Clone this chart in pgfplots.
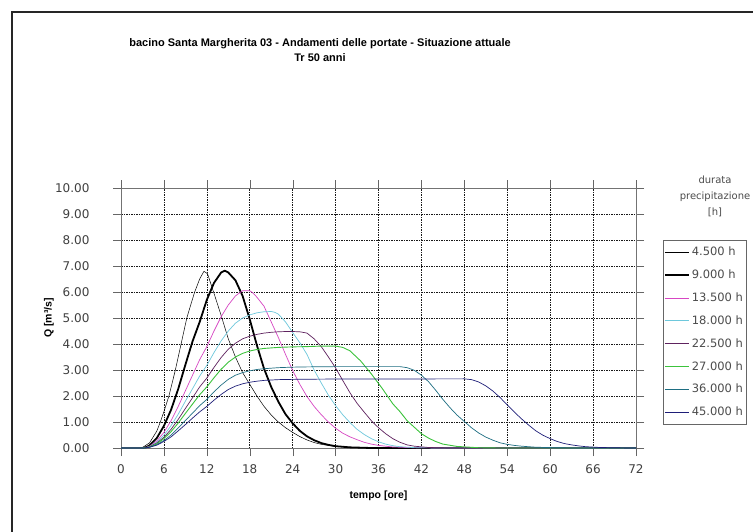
\documentclass[border=0pt]{standalone}
\usepackage{pgfplots}
\pgfplotsset{compat=1.18}
\usepackage{fontspec}
\setmainfont{DejaVu Sans}
\newfontfamily\lib{Liberation Sans}
\definecolor{cmag}{RGB}{215,70,195}
\definecolor{ccya}{RGB}{110,200,220}
\definecolor{cpur}{RGB}{95,35,95}
\definecolor{cgre}{RGB}{60,195,60}
\definecolor{ctea}{RGB}{30,110,130}
\definecolor{cnav}{RGB}{30,30,120}
\begin{document}
\begin{tikzpicture}[x=1pt,y=1pt]
\useasboundingbox (0,0) rectangle (753,-531);
\clip (0,0) rectangle (753,-531);
\fill[white] (0,0) rectangle (753,-531);
\draw[line width=1.2pt, black!85] (12,-12) rectangle (800,-600);
\node[align=center, font=\lib\bfseries\fontsize{11}{15}\selectfont] at (320,-50) {bacino Santa Margherita 03 - Andamenti delle portate - Situazione attuale\\Tr 50 anni};
\node[align=center, font=\fontsize{10}{16}\selectfont, text=black!70] at (715,-196) {durata\\precipitazione\\{[h]}};
\begin{axis}[at={(121pt,-448pt)}, anchor=south west, scale only axis,
  width=515pt, height=260pt,
  xmin=0, xmax=72, ymin=0, ymax=10,
  xtick={0,6,...,72}, ytick={0,1,...,10},
  grid=major,
  major grid style={black!90, dash pattern=on 1.5pt off 1pt, line width=0.6pt},
  axis line style={black!55},
  tick style={black!60},
  tick align=outside, major tick length=8pt,
  /pgf/number format/assume math mode=true,
  yticklabel style={/pgf/number format/fixed, /pgf/number format/fixed zerofill, /pgf/number format/precision=2, xshift=-20pt},
  xticklabel style={yshift=-5pt},
  ticklabel style={font=\fontsize{12}{14}\selectfont, text=black!75},
  xlabel={tempo [ore]},
  ylabel={Q [m³/s]},
  label style={font=\lib\bfseries\fontsize{10.5}{12}\selectfont},
  xlabel style={at={(axis description cs:0.5,-0.182)}, anchor=center},
  ylabel style={at={(axis description cs:-0.14,0.5)}, anchor=center},
  legend style={at={(axis description cs:1.052,0.80)}, anchor=north west,
    draw=black!60, fill=white, font=\fontsize{11.5}{13}\selectfont, text=black!70,
    row sep=8.6pt, inner xsep=1pt, inner ysep=5pt},
  legend cell align=left,
  legend image code/.code={\draw[#1] (0pt,0pt) -- (24pt,0pt);},
  every axis plot/.append style={line join=round},
]
\addplot[black, line width=0.5pt] coordinates {
(0,0)(2.5,0)(3,0.02)(4,0.2)(5,0.65)(5.5,1.0)(6,1.4)(6.7,2.0)(7.6,3.0)(8.4,4.0)(9.2,5.0)(9.8,5.55)(10.3,6.0)(11,6.5)(11.6,6.8)(12.1,6.7)(13,5.95)(14,5.1)(15,4.2)(16,3.5)(17,2.9)(18,2.45)(19,2.0)(20,1.6)(21,1.27)(22,1.0)(23,0.78)(24,0.6)(25,0.44)(26,0.31)(27,0.21)(28,0.14)(30,0.06)(33,0.015)(36,0)(72,0)};
\addlegendentry{4.500 h}
\addplot[black, line width=1.8pt] coordinates {
(0,0)(3,0)(3.5,0.03)(4,0.1)(5,0.38)(6,0.85)(7,1.47)(8,2.27)(9,3.2)(10,4.1)(11,4.85)(12,5.7)(13,6.35)(14,6.75)(14.5,6.82)(15,6.75)(16,6.45)(17,5.85)(18,4.95)(19,3.95)(20,3.05)(21,2.35)(22,1.78)(23,1.3)(24,0.95)(25,0.66)(26,0.45)(27,0.3)(28,0.19)(29,0.12)(30,0.07)(32,0.025)(35,0)(72,0)};
\addlegendentry{9.000 h}
\addplot[cmag, line width=0.7pt] coordinates {
(0,0)(3,0)(3.5,0.02)(4,0.07)(5,0.27)(6,0.6)(7,1.05)(8,1.6)(9,2.2)(10,2.8)(11,3.4)(12,3.9)(13,4.5)(14,5.05)(15,5.5)(16,5.85)(17,6.05)(18,6.05)(18.5,5.95)(19,5.8)(20,5.45)(21,4.85)(22,4.25)(23,3.6)(24,2.98)(25,2.45)(26,1.98)(27,1.6)(28,1.28)(29,1.0)(30,0.76)(31,0.57)(32,0.43)(33,0.32)(34,0.22)(35,0.15)(36,0.1)(38,0.04)(41,0.01)(45,0)(72,0)};
\addlegendentry{13.500 h}
\addplot[ccya, line width=0.7pt] coordinates {
(0,0)(3,0)(3.5,0.016)(4,0.057)(5,0.22)(6,0.49)(7,0.86)(8,1.3)(9,1.8)(10,2.28)(11,2.77)(12,3.18)(13,3.67)(14,4.12)(15,4.5)(16,4.8)(17,5.0)(18,5.12)(19,5.2)(20,5.24)(21,5.25)(21.5,5.22)(22,5.15)(23,4.85)(24,4.44)(25,4.05)(26,3.6)(27,3.0)(28,2.5)(29,2.03)(30,1.63)(31,1.28)(32,0.98)(33,0.72)(34,0.52)(35,0.36)(36,0.24)(37,0.15)(38,0.09)(39,0.05)(41,0.015)(44,0)(72,0)};
\addlegendentry{18.000 h}
\addplot[cpur, line width=0.7pt] coordinates {
(0,0)(3,0)(3.5,0.014)(4,0.05)(5,0.19)(6,0.41)(7,0.72)(8,1.1)(9,1.52)(10,1.93)(11,2.35)(12,2.69)(13,3.1)(14,3.48)(15,3.8)(16,4.03)(17,4.2)(18,4.3)(19,4.37)(20,4.42)(21,4.45)(22,4.47)(23,4.48)(24,4.48)(25,4.47)(26,4.42)(27,4.2)(28,3.9)(29,3.5)(30,3.08)(31,2.6)(32,2.13)(33,1.72)(34,1.38)(35,1.05)(36,0.78)(37,0.55)(38,0.36)(39,0.22)(40,0.12)(41,0.07)(43,0.02)(46,0)(72,0)};
\addlegendentry{22.500 h}
\addplot[cgre, line width=0.9pt] coordinates {
(0,0)(3,0)(3.5,0.012)(4,0.042)(5,0.16)(6,0.36)(7,0.63)(8,0.96)(9,1.33)(10,1.69)(11,2.05)(12,2.35)(13,2.7)(14,3.03)(15,3.3)(16,3.5)(17,3.64)(18,3.73)(19,3.79)(20,3.83)(22,3.87)(24,3.89)(26,3.9)(28,3.92)(30,3.92)(31,3.87)(32,3.74)(33.5,3.35)(35,2.85)(36.5,2.3)(38,1.7)(39,1.4)(40,1.05)(41,0.8)(42,0.55)(43,0.38)(44,0.25)(45,0.15)(47,0.06)(50,0.01)(53,0)(72,0)};
\addlegendentry{27.000 h}
\addplot[ctea, line width=0.7pt] coordinates {
(0,0)(3,0)(3.5,0.01)(4,0.034)(5,0.13)(6,0.29)(7,0.5)(8,0.77)(9,1.06)(10,1.34)(11,1.63)(12,1.87)(13,2.16)(14,2.42)(15,2.64)(16,2.8)(17,2.9)(18,2.97)(19,3.02)(20,3.05)(22,3.09)(24,3.11)(26,3.12)(30,3.13)(39,3.13)(40,3.09)(41,2.99)(42,2.8)(43,2.55)(44,2.22)(45,1.87)(46,1.55)(47,1.26)(48,1.02)(49,0.78)(50,0.58)(51,0.42)(52,0.3)(53,0.2)(54,0.14)(55,0.1)(56,0.07)(58,0.03)(61,0.01)(64,0)(72,0)};
\addlegendentry{36.000 h}
\addplot[cnav, line width=0.7pt] coordinates {
(0,0)(3,0)(3.5,0.008)(4,0.029)(5,0.11)(6,0.25)(7,0.43)(8,0.66)(9,0.9)(10,1.15)(11,1.39)(12,1.6)(13,1.84)(14,2.06)(15,2.25)(16,2.38)(17,2.47)(18,2.53)(19,2.57)(20,2.6)(22,2.63)(24,2.64)(28,2.65)(48,2.66)(49,2.63)(50,2.54)(51,2.39)(52,2.19)(53,1.94)(54,1.66)(55,1.38)(56,1.12)(57,0.88)(58,0.66)(59,0.49)(60,0.36)(61,0.25)(62,0.17)(63,0.12)(64,0.08)(65,0.05)(67,0.02)(70,0.005)(72,0)};
\addlegendentry{45.000 h}
\end{axis}
\end{tikzpicture}
\end{document}
